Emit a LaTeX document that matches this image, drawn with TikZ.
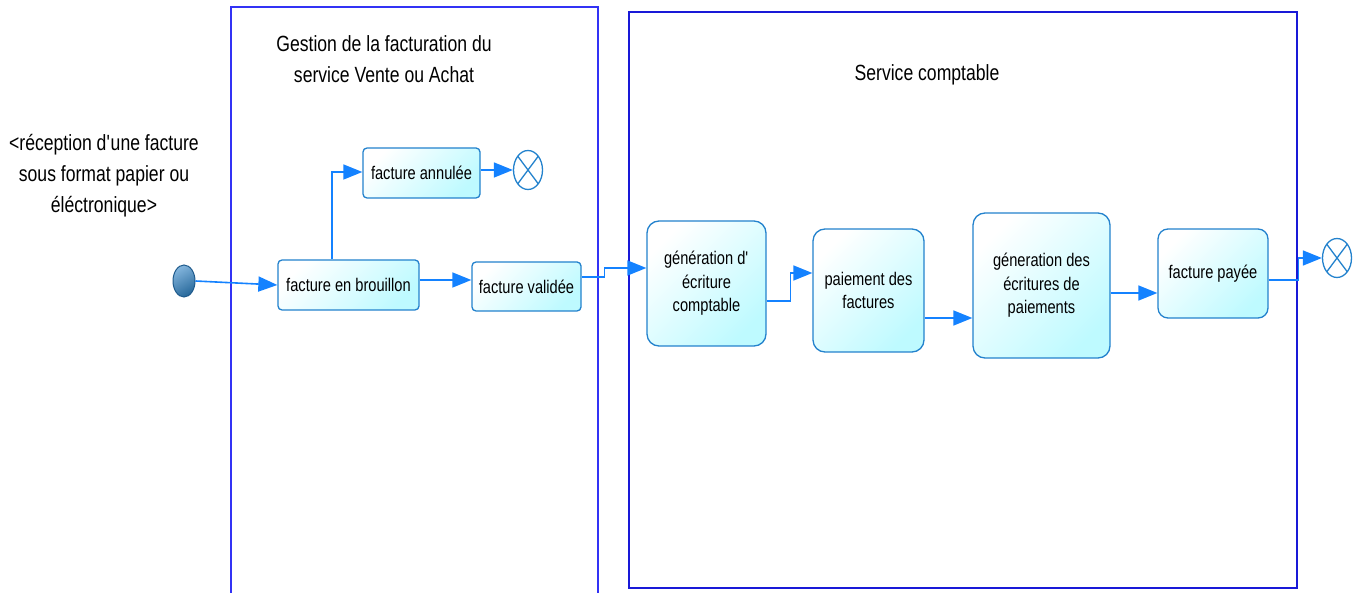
\documentclass[tikz,border=0pt]{standalone}
\usepackage{fontspec}
\setmainfont[FakeStretch=0.8]{Liberation Sans}
\usetikzlibrary{arrows.meta,shapes.geometric}

\definecolor{laneA}{RGB}{50,50,245}
\definecolor{laneB}{RGB}{25,25,215}
\definecolor{edgeblue}{RGB}{35,130,205}
\definecolor{flowblue}{RGB}{20,130,255}
\definecolor{cellcyan}{RGB}{190,250,255}
\definecolor{dotlight}{RGB}{130,180,220}
\definecolor{dotdark}{RGB}{40,105,155}
\definecolor{dotedge}{RGB}{30,90,140}

\newcommand{\apos}{\textquotesingle}

\tikzset{
  lane/.style={line width=1.4pt},
  title/.style={align=center, font=\fontsize{22}{31}\selectfont, text=black},
  activity/.style={draw=edgeblue, line width=1.3pt, rounded corners=4pt,
    top color=white, bottom color=cellcyan, shading angle=45,
    inner sep=0pt, align=center, font=\fontsize{18.3}{23.5}\selectfont, text=black},
  bigactivity/.style={activity, rounded corners=12pt},
  initial/.style={ellipse, draw=dotedge, line width=1pt, minimum width=22pt, minimum height=32pt,
    inner sep=0pt, top color=dotlight, bottom color=dotdark, shading angle=30},
  final/.style={ellipse, draw=edgeblue, line width=1.3pt, fill=white,
    minimum width=29pt, minimum height=39pt, inner sep=0pt,
    path picture={\draw[edgeblue, line width=1.3pt]
      (path picture bounding box.north east) -- (path picture bounding box.south west)
      (path picture bounding box.north west) -- (path picture bounding box.south east);}},
  flow/.style={draw=flowblue, line width=1.6pt,
    -{Triangle[length=19pt,width=15pt]}},
}

\begin{document}
\begin{tikzpicture}[x=1pt,y=-1pt]
  \useasboundingbox (0,0) rectangle (1358,593);
  \fill[white] (0,0) rectangle (1358,593);

  % swimlanes
  \draw[lane, laneA] (231,593) -- (231,7) -- (598,7) -- (598,593);
  \draw[lane, laneB] (629,12) rectangle (1297,588);

  \node[title] (laneAtitle) at (384,59.5) {Gestion de la facturation du\\service Vente ou Achat};
  \node[title] (laneBtitle) at (927,75) {Service comptable};
  \node[title] (source) at (104,176) {<réception d\apos une facture\\sous format papier ou\\éléctronique>};

  % activities
  \node[initial] (start) at (184,281) {};
  \node[activity, minimum width=141pt, minimum height=50pt] (brouillon) at (348.5,285) {facture en brouillon};
  \node[activity, minimum width=117pt, minimum height=50pt] (annulee) at (421.5,173) {facture annulée};
  \node[activity, minimum width=109pt, minimum height=49pt] (validee) at (526.5,286.5) {facture validée};
  \node[final] (endA) at (528,170) {};

  \node[bigactivity, minimum width=119pt, minimum height=125pt] (ecriture) at (706.5,283.5) {génération d\apos\\écriture\\comptable};
  \node[bigactivity, minimum width=111pt, minimum height=123pt] (paiement) at (868.5,290.5) {paiement des\\factures};
  \node[bigactivity, minimum width=137pt, minimum height=145pt] (genpay) at (1041.5,285.5) {géneration des\\écritures de\\paiements};
  \node[activity, rounded corners=10pt, minimum width=110pt, minimum height=89pt] (payee) at (1213,273.5) {facture payée};
  \node[final] (endB) at (1337,258) {};

  % flows
  \draw[flow] (start.east) -- (brouillon.west);
  \draw[flow] ([yshift=5pt]brouillon.east) -- ([yshift=5pt]brouillon.east -| validee.west);
  \draw[flow] ([xshift=-16.5pt]brouillon.north) |- ([yshift=1pt]annulee.west);
  \draw[flow] (annulee.east |- endA) -- (endA.west);
  \draw[flow] ([yshift=9.5pt]validee.east) -- ++(23pt,0) |- ([yshift=15.5pt]ecriture.west);
  \draw[flow] ([yshift=-17.5pt]ecriture.east) -- ++(24pt,0) |- ([yshift=17.5pt]paiement.west);
  \draw[flow] ([yshift=-27.5pt]paiement.east) -- ([yshift=-27.5pt]paiement.east -| genpay.west);
  \draw[flow] ([yshift=-7.5pt]genpay.east) -- ([yshift=-7.5pt]genpay.east -| payee.west);
  \draw[flow] ([yshift=-6.5pt]payee.east) -- ++(30pt,0) |- (endB.west);
\end{tikzpicture}
\end{document}
